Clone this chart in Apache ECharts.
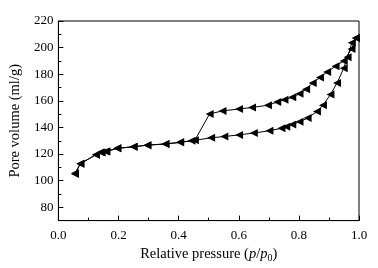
<!DOCTYPE html>
<html>
<head>
<meta charset="utf-8">
<script src="https://cdn.jsdelivr.net/npm/echarts@6/dist/echarts.min.js"></script>
<style>
html,body{margin:0;padding:0;background:#fff;}
#chart{width:378px;height:268px;}
</style>
</head>
<body>
<div id="chart"></div>
<script>
// adsorption branch (lower)
var adsP = [0.055,0.073,0.125,0.144,0.157,0.196,0.25,0.296,0.356,0.405,0.443,0.508,0.552,0.601,0.65,0.702,0.742,0.758,0.778,0.802,0.829,0.86,0.88,0.905,0.927,0.949,0.962,0.976,0.99];
var adsV = [105.5,112.8,119.5,121.2,122,124.3,125.5,126.7,127.6,128.8,130,132.2,133.2,134.4,135.8,137.5,139.4,140.6,142.3,144.2,147.1,151.9,156.7,164.7,173.5,184.4,192.8,203.6,207.2];
// desorption branch (upper), high -> low pressure
var desP = [0.99,0.975,0.949,0.922,0.894,0.87,0.846,0.824,0.802,0.778,0.752,0.728,0.697,0.644,0.601,0.546,0.503,0.454,0.405,0.356,0.296,0.25,0.196,0.16,0.14,0.125,0.073,0.055];
var desV = [207.2,199,190,186,181.7,177.5,173.5,168.7,165.3,162.7,160.8,159.1,156.7,155,153.9,152.4,150.2,130.4,128.8,127.6,126.7,125.5,124.3,122,121.3,119.5,112.8,105];

var xLabels = [0,0.2,0.4,0.6,0.8,1.0];
var xMinor = [0.1,0.3,0.5,0.7,0.9];
var yLabels = [80,100,120,140,160,180,200,220];
var yMinor = [70,90,110,130,150,170,190,210];

function pairs(xs, ys) {
    var out = [];
    for (var i = 0; i < xs.length; i++) {
        out.push([xs[i], ys[i]]);
    }
    return out;
}

var font = '"Liberation Serif", "Times New Roman", serif';
var chart = echarts.init(document.getElementById('chart'));

var lineSeries = function (name, data) {
    return {
        name: name,
        type: 'line',
        data: data,
        symbol: 'triangle',
        symbolRotate: 90,
        symbolSize: 8,
        lineStyle: {color: '#000', width: 1},
        itemStyle: {color: '#000'},
        animation: false
    };
};

var option = {
    backgroundColor: '#fff',
    grid: {
        left: 52, right: 19, top: 21, bottom: 40,
        show: true, borderColor: '#000', borderWidth: 1
    },
    xAxis: [{
        type: 'value',
        min: 0, max: 1, interval: 0.1,
        axisLine: {show: true, lineStyle: {color: '#000', width: 1}},
        axisTick: {show: true, inside: true, length: 5, lineStyle: {color: '#000'}, customValues: xLabels},
        axisLabel: {
            customValues: xLabels, color: '#000', fontFamily: font, fontSize: 13, margin: 8,
            formatter: function (v) { return v.toFixed(1); }
        },
        splitLine: {show: false},
        name: '{n|Relative pressure (}{i|p}{n|/}{i|p}{s|0}{n|)}',
        nameLocation: 'middle',
        nameGap: 20,
        nameTextStyle: {
            fontFamily: font, fontSize: 14.5, color: '#000',
            rich: {
                n: {fontFamily: font, fontSize: 14.5, color: '#000'},
                i: {fontFamily: font, fontSize: 14.5, color: '#000', fontStyle: 'italic'},
                s: {fontFamily: font, fontSize: 10, color: '#000', padding: [8, 0, 0, 0]}
            }
        }
    }, {
        type: 'value',
        min: 0, max: 1, interval: 0.1,
        position: 'bottom',
        axisLine: {show: false},
        axisTick: {show: true, inside: true, length: 3, lineStyle: {color: '#000'}, customValues: xMinor},
        axisLabel: {show: false},
        splitLine: {show: false}
    }],
    yAxis: [{
        type: 'value',
        min: 70, max: 220, interval: 10,
        axisLine: {show: true, lineStyle: {color: '#000', width: 1}},
        axisTick: {show: true, inside: true, length: 5, lineStyle: {color: '#000'}, customValues: yLabels},
        axisLabel: {customValues: yLabels, color: '#000', fontFamily: font, fontSize: 13, margin: 5},
        splitLine: {show: false},
        name: 'Pore volume (ml/g)',
        nameLocation: 'middle',
        nameGap: 31,
        nameTextStyle: {fontFamily: font, fontSize: 14.5, color: '#000'}
    }, {
        type: 'value',
        min: 70, max: 220, interval: 10,
        position: 'left',
        axisLine: {show: false},
        axisTick: {show: true, inside: true, length: 3, lineStyle: {color: '#000'}, customValues: yMinor},
        axisLabel: {show: false},
        splitLine: {show: false}
    }],
    series: [
        lineSeries('Adsorption', pairs(adsP, adsV)),
        lineSeries('Desorption', pairs(desP, desV))
    ]
};
chart.setOption(option);
</script>
</body>
</html>
